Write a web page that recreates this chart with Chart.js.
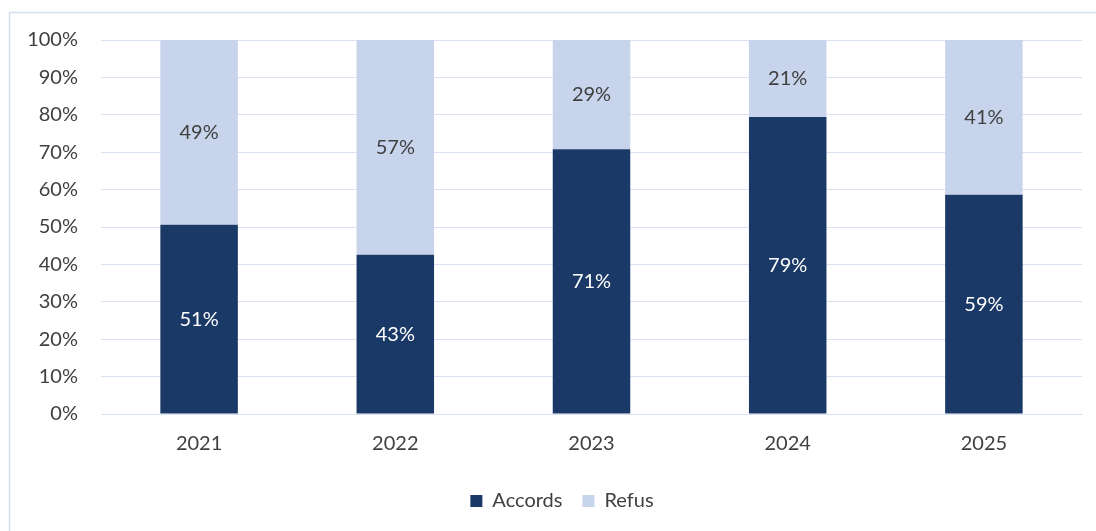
<!DOCTYPE html>
<html><head><meta charset="utf-8">
<script src="https://cdn.jsdelivr.net/npm/chart.js@4/dist/chart.umd.min.js"></script>
<style>html,body{margin:0;padding:0;background:#fff;}#wrap{width:1096px;height:531px;position:relative;}</style>
</head><body><div id="wrap"><canvas id="c" width="1096" height="531"></canvas></div>
<script>
const categories = ['2021','2022','2023','2024','2025'];
const accords = [50.6, 42.6, 70.8, 79.4, 58.6];
const refus = [49.4, 57.4, 29.2, 20.6, 41.4];
const yTicks = [0,10,20,30,40,50,60,70,80,90,100];

const FONT = 'Lato, "Open Sans", sans-serif';
const FS = 20;
const borderPlugin = {
  id:'border',
  beforeDraw(chart){
    const ctx=chart.ctx; ctx.save();
    ctx.strokeStyle='#d5dff0'; ctx.lineWidth=1.5;
    ctx.beginPath(); ctx.moveTo(9.5,540); ctx.lineTo(9.5,12.5); ctx.lineTo(1100,12.5); ctx.stroke();
    ctx.restore();
  }
};
const labelPlugin = {
  id:'vlabels',
  afterDatasetsDraw(chart){
    const ctx=chart.ctx; ctx.save();
    ctx.font=FS+'px '+FONT; ctx.textAlign='center'; ctx.textBaseline='middle';
    chart.data.datasets.forEach((ds,i)=>{
      const meta=chart.getDatasetMeta(i);
      meta.data.forEach((bar,j)=>{
        ctx.fillStyle = i===0 ? '#ffffff' : '#404040';
        const y=(bar.y+bar.base)/2;
        ctx.fillText(Math.round(ds.data[j])+'%', bar.x, y);
      });
    });
    ctx.restore();
  }
};
new Chart(document.getElementById('c'),{
  type:'bar',
  data:{labels:categories,datasets:[
    {label:'Accords',data:accords,backgroundColor:'#1a3966',borderWidth:0,categoryPercentage:1,barPercentage:0.395},
    {label:'Refus',data:refus,backgroundColor:'#c8d3ec',borderWidth:0,categoryPercentage:1,barPercentage:0.395}
  ]},
  options:{
    responsive:false,animation:false,
    layout:{padding:{left:10,right:-18,top:40,bottom:10}},
    plugins:{
      legend:{position:'bottom',labels:{font:{family:FONT,size:FS},color:'#404040',boxWidth:12,boxHeight:12,padding:20}},
      tooltip:{enabled:false}
    },
    scales:{
      x:{stacked:true,grid:{display:false,drawTicks:false},border:{display:true,color:'#d9e2f3'},
         ticks:{font:{family:FONT,size:FS},color:'#404040',padding:18},
         afterFit(s){s.height=57;}},
      y:{stacked:true,min:0,max:100,
         afterBuildTicks(s){s.ticks=yTicks.map(v=>({value:v}));},
         grid:{color:'#d9e2f3',drawTicks:false},border:{display:false},
         ticks:{font:{family:FONT,size:FS},color:'#404040',padding:23,callback:v=>v+'%'},
         afterFit(s){s.width=91;}},
      y2:{position:'right',min:0,max:100,grid:{display:false,drawTicks:false},border:{display:false},
         ticks:{display:false},afterFit(s){s.width=32;}}
    }
  },
  plugins:[borderPlugin,labelPlugin]
});
</script></body></html>
